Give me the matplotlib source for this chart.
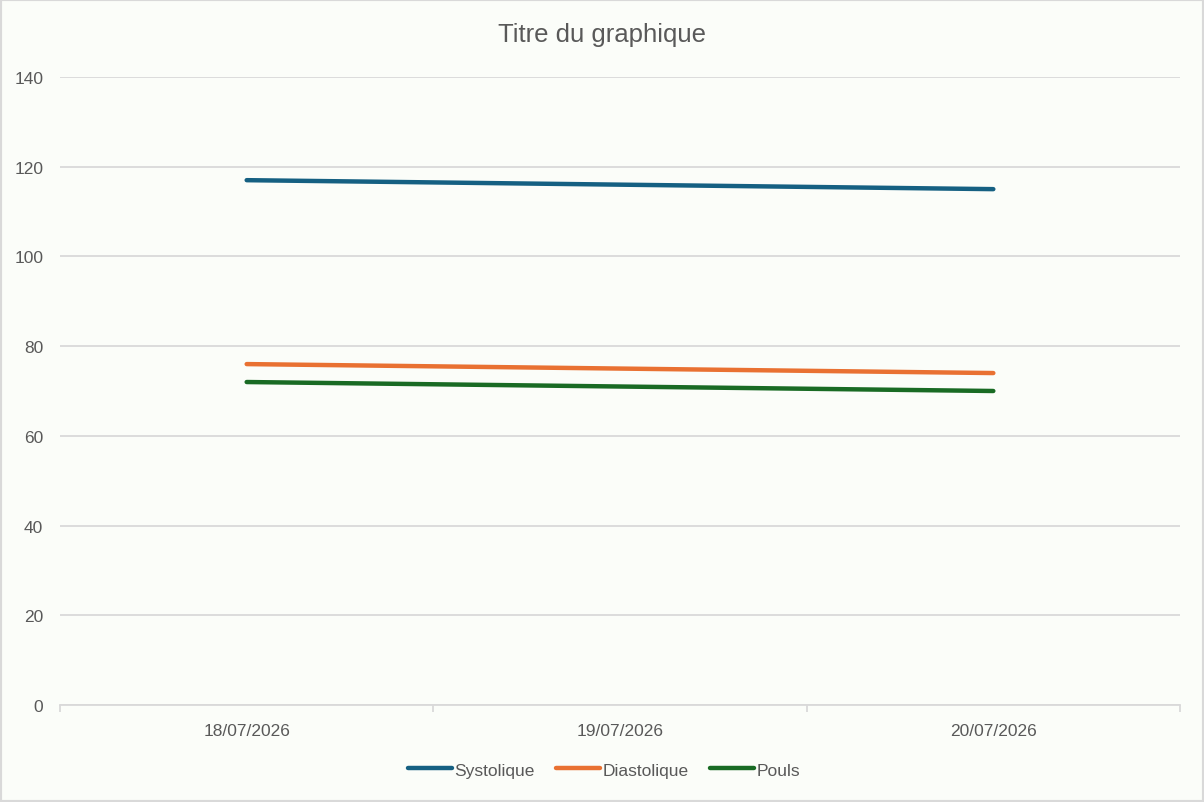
import matplotlib.pyplot as plt
from matplotlib.ticker import FixedLocator, NullFormatter

# Data
dates = ["18/07/2026", "19/07/2026", "20/07/2026"]
systolique = [117, 116, 115]
diastolique = [76, 75, 74]
pouls = [72, 71, 70]

BG = "#FBFDF9"
GRID = "#D9D9D9"
TEXT = "#595959"

plt.rcParams["font.family"] = ["Liberation Sans", "DejaVu Sans"]

fig = plt.figure(figsize=(12.04, 8.03), dpi=100, facecolor=BG)
ax = fig.add_axes([60 / 1204, 1 - 706 / 803, 1120 / 1204, 628 / 803], facecolor=BG)

x = range(len(dates))
ax.plot(x, systolique, color="#156082", lw=3.2, solid_capstyle="round", label="Systolique")
ax.plot(x, diastolique, color="#E97132", lw=3.2, solid_capstyle="round", label="Diastolique")
ax.plot(x, pouls, color="#196B24", lw=3.2, solid_capstyle="round", label="Pouls")

ax.set_xlim(-0.5, len(dates) - 0.5)
ax.set_ylim(0, 140)
ax.set_yticks(range(0, 141, 20))
ax.yaxis.grid(True, color=GRID, lw=1.3)
ax.set_axisbelow(True)

# category labels centered, tick marks at boundaries
ax.set_xticks(list(x))
ax.set_xticklabels(dates)
ax.tick_params(axis="x", which="major", length=0, pad=13, labelsize=12.5, labelcolor=TEXT)
ax.xaxis.set_minor_locator(FixedLocator([i - 0.5 for i in range(len(dates) + 1)]))
ax.xaxis.set_minor_formatter(NullFormatter())
ax.tick_params(axis="x", which="minor", length=5, width=1.3, color=GRID, direction="out")
ax.tick_params(axis="y", length=0, pad=12, labelsize=12.5, labelcolor=TEXT)

for s in ["top", "right", "left"]:
    ax.spines[s].set_visible(False)
ax.spines["bottom"].set_color(GRID)
ax.spines["bottom"].set_linewidth(1.3)

fig.suptitle("Titre du graphique", y=1 - 35 / 803, va="center", fontsize=18.5, color=TEXT)

fig.legend(loc="center", bbox_to_anchor=(604 / 1204, 1 - 771 / 803), ncol=3, frameon=False,
           fontsize=12.5, labelcolor=TEXT, handlelength=2.5, handletextpad=0.15, columnspacing=1.25)

# outer border
fig.add_artist(plt.Rectangle((0, 0), 1, 1, transform=fig.transFigure, fill=False,
                             edgecolor=GRID, lw=3))

fig.savefig("out.png", dpi=100, facecolor=BG)
